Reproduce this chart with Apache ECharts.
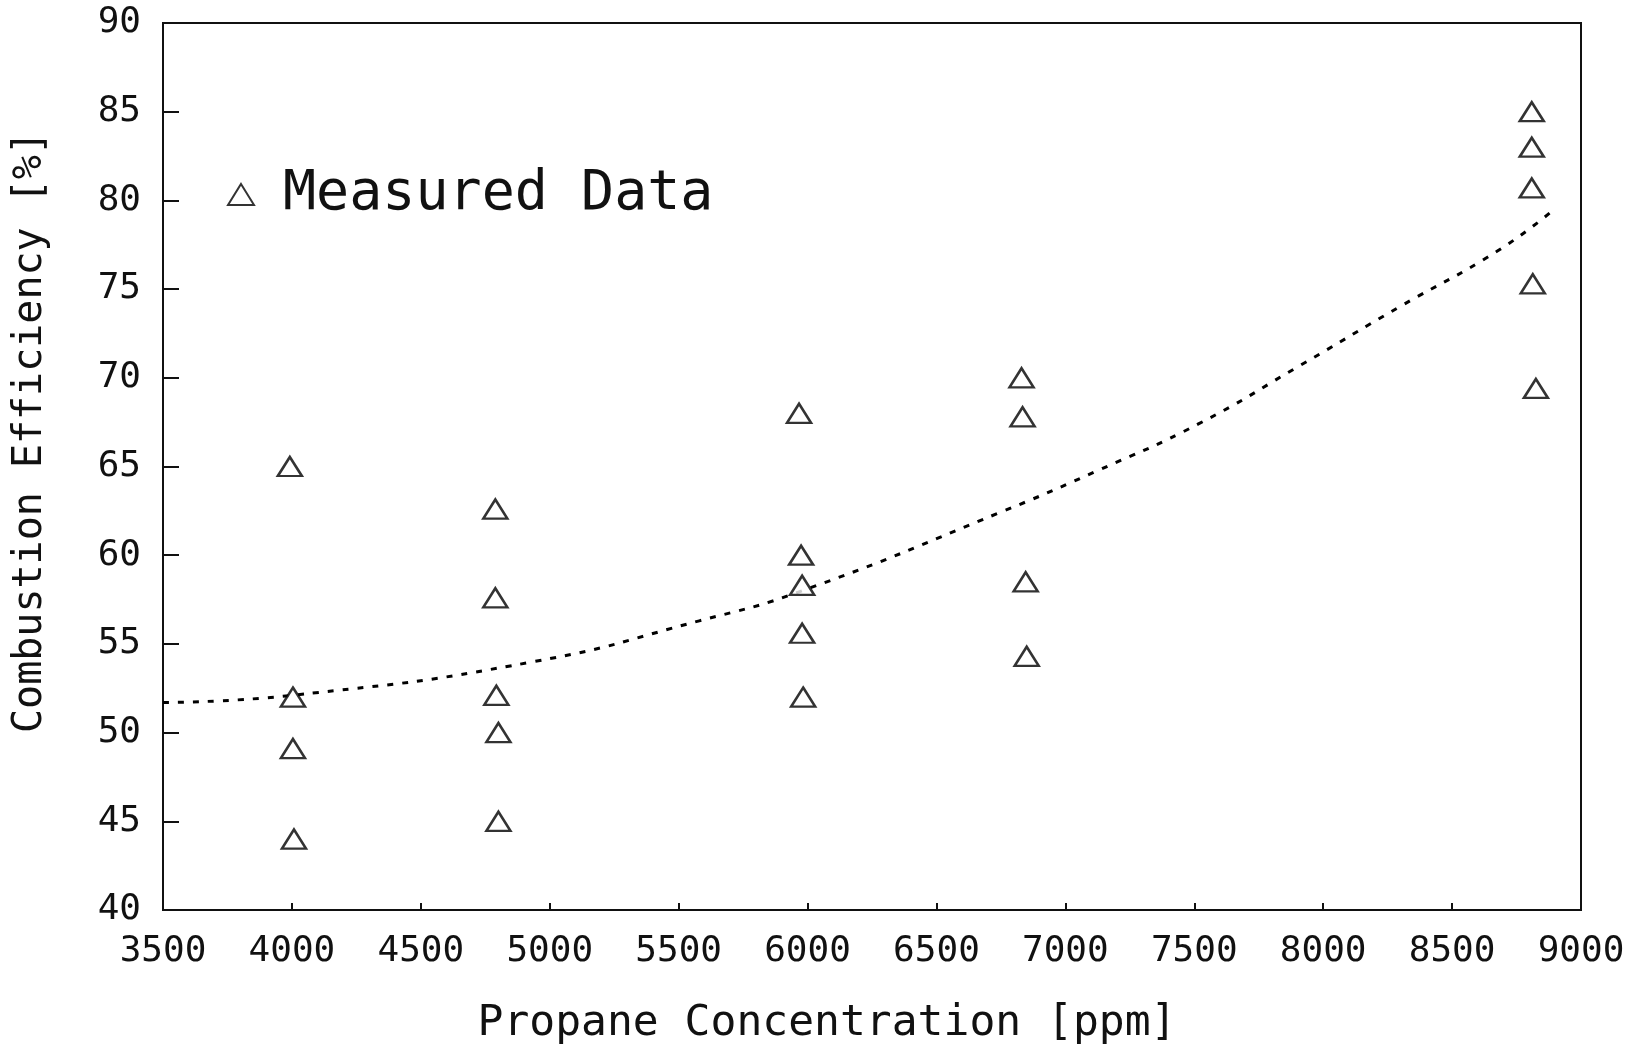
<!DOCTYPE html>
<html>
<head>
<meta charset="utf-8">
<script src="https://cdn.jsdelivr.net/npm/echarts@6/dist/echarts.min.js"></script>
<style>html,body{margin:0;padding:0;background:#fff;}#c{width:1642px;height:1053px;}</style>
</head>
<body>
<div id="c"></div>
<script>
// Measured data (x = propane ppm, y = efficiency %)
const measuredX = [3992, 4004, 4004, 4008, 4789, 4789, 4793, 4801, 4801, 5967, 5975, 5979, 5979, 5983, 6830, 6834, 6846, 6850, 8809, 8809, 8809, 8813, 8825];
const measuredY = [65, 52, 49.1, 44, 62.6, 57.6, 52.1, 50, 45, 68, 60, 58.3, 55.6, 52, 70, 67.8, 58.5, 54.3, 85, 83, 80.7, 75.3, 69.4];
// Fitted curve
const fitX = [3500, 4000, 4938, 5580, 5980, 6745, 7130, 7516, 7911, 8296, 8671, 8888];
const fitY = [51.7, 52.1, 54.0, 56.3, 58.0, 62.4, 64.8, 67.4, 70.7, 74.0, 77.1, 79.4];
const xTicks = [3500, 4000, 4500, 5000, 5500, 6000, 6500, 7000, 7500, 8000, 8500, 9000];
const yTicks = [40, 45, 50, 55, 60, 65, 70, 75, 80, 85, 90];
const xName = 'Propane Concentration [ppm]';
const yName = 'Combustion Efficiency [%]';
const seriesName = 'Measured Data';

const FONT = 'DejaVu Sans Mono';
const chart = echarts.init(document.getElementById('c'), null, {renderer: 'canvas'});
chart.setOption({
  backgroundColor: '#fff',
  animation: false,
  grid: {left: 163, right: 61, top: 23, bottom: 143, show: true, borderColor: '#111', borderWidth: 2, backgroundColor: 'transparent'},
  legend: {
    left: 222, top: 162, itemWidth: 26, itemHeight: 21,
    data: [seriesName],
    textStyle: {fontFamily: FONT, fontSize: 55, color: '#111', padding: [0, 0, 0, 24]}
  },
  xAxis: {
    type: 'value', min: xTicks[0], max: xTicks[xTicks.length - 1], interval: 500,
    axisLine: {show: true, lineStyle: {color: '#111', width: 2}},
    axisTick: {show: true, inside: true, length: 7, lineStyle: {color: '#111', width: 2}},
    axisLabel: {fontFamily: FONT, fontSize: 36, color: '#111', margin: 24, showMinLabel: true, showMaxLabel: true,
      formatter: v => String(v)},
    splitLine: {show: false}
  },
  yAxis: {
    type: 'value', min: yTicks[0], max: yTicks[yTicks.length - 1], interval: 5,
    axisLine: {show: true, lineStyle: {color: '#111', width: 2}},
    axisTick: {show: true, inside: true, length: 16, lineStyle: {color: '#111', width: 2}},
    axisLabel: {fontFamily: FONT, fontSize: 36, color: '#111', margin: 22, formatter: v => String(v)},
    splitLine: {show: false}
  },
  graphic: [
    {type: 'text', x: 827, y: 1024, style: {text: xName, fontFamily: FONT, fontSize: 43, fill: '#111', align: 'center', verticalAlign: 'middle'}},
    {type: 'text', rotation: Math.PI / 2, x: 31, y: 432, style: {text: yName, fontFamily: FONT, fontSize: 40, fill: '#111', align: 'center', verticalAlign: 'middle'}}
  ],
  series: [
    {
      name: 'fit', type: 'line', smooth: true, symbol: 'none', silent: true,
      data: fitX.map((x, i) => [x, fitY[i]]),
      lineStyle: {color: '#000', width: 3, type: [6, 9]}, z: 1
    },
    {
      name: seriesName, type: 'scatter', symbol: 'triangle', symbolSize: [24, 19],
      data: measuredX.map((x, i) => [x, measuredY[i]]),
      itemStyle: {color: '#fff', borderColor: '#000', borderWidth: 2.5}, z: 3
    }
  ]
});
</script>
</body>
</html>
